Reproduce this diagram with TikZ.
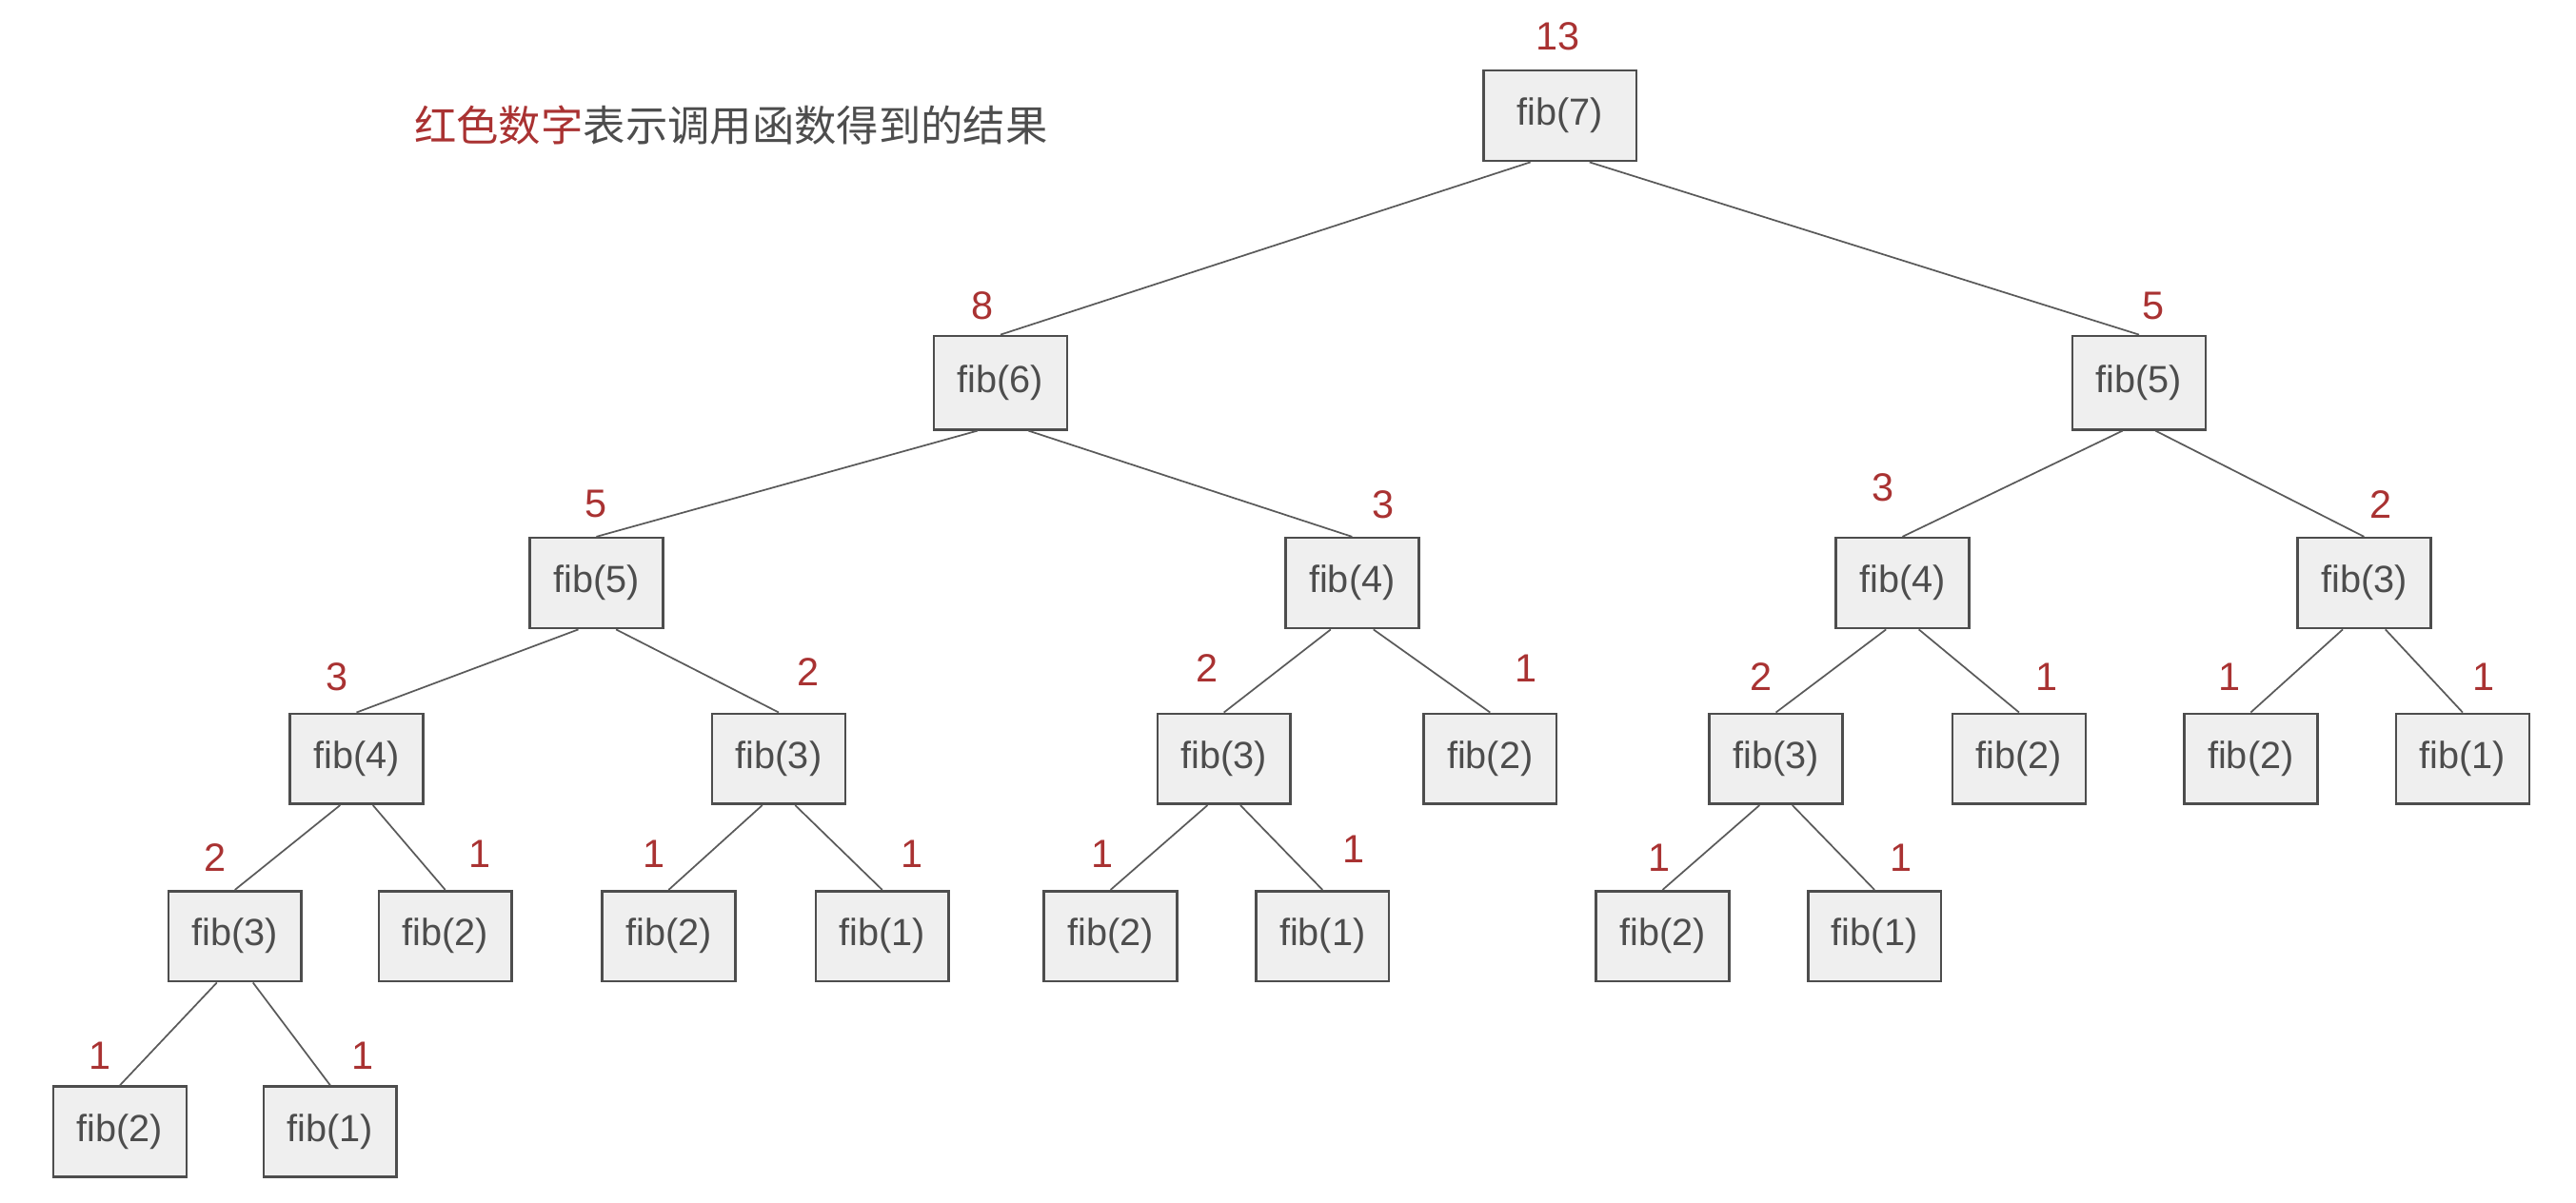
\documentclass[tikz,border=0pt]{standalone}
\usepackage{fontspec}
\setmainfont{Liberation Sans}
\newfontfamily\cjk{Noto Sans CJK SC}
\usetikzlibrary{positioning}

\definecolor{valred}{HTML}{A93232}
\definecolor{boxgray}{HTML}{EFEFEF}
\definecolor{inkgray}{HTML}{4D4D4D}
\definecolor{edgegray}{HTML}{5A5A5A}

\tikzset{
    fibbox/.style={draw=inkgray, line width=1.5pt, fill=boxgray, text=inkgray,
        minimum width=81pt, minimum height=55pt, inner sep=0pt,
        font=\fontsize{23}{26}\selectfont},
    val/.style={text=valred, inner sep=0pt, font=\fontsize{24}{28}\selectfont},
    call/.style={draw=edgegray, line width=1pt}
}

\begin{document}
\begin{tikzpicture}[x=1pt, y=-1pt]
    \useasboundingbox (0,0) rectangle (1568,732.4);

    % legend
    \node[anchor=west, inner sep=0pt, text=inkgray, font=\cjk\fontsize{25.7}{28}\selectfont]
        (note) at (252,76) {\textcolor{valred}{红色数字}表示调用函数得到的结果};

    % call boxes
    \node[fibbox, minimum width=93pt] (n7) at (949.5,70.5) {fib(7)};
    \node[fibbox, minimum height=57pt] (n6) at (609,233) {fib(6)};
    \node[fibbox, minimum height=57pt] (n5) at (1302,233) {fib(5)};
    \foreach \name/\x/\y/\k in {
        n6a/363/355/5, n6b/823/355/4, n5a/1158/355/4, n5b/1439/355/3,
        a/217/462/4, b/474/462/3, c/745/462/3, d/907/462/2,
        e/1081/462/3, f/1229/462/2, g/1370/462/2, h/1499/462/1,
        aa/143/570/3, ab/271/570/2, ba/407/570/2, bb/537/570/1,
        ca/676/570/2, cb/805/570/1, ea/1012/570/2, eb/1141/570/1,
        aaa/73/689/2, aab/201/689/1}
        \node[fibbox] (\name) at (\x,\y) {fib(\k)};

    % returned values
    \foreach \name/\x/\y/\v in {
        v7/948/22/13, v6/598/186/8, v5/1311/186/5,
        v6a/363/307/5, v6b/842/307/3, v5a/1146/297/3, v5b/1449/307/2,
        va/205/412/3, vb/492/409/2, vc/735/407/2, vd/929/407/1,
        ve/1072/412/2, vf/1246/412/1, vg/1357/412/1, vh/1512/412/1,
        vaa/131/522/2, vab/292/520/1, vba/398/520/1, vbb/555/520/1,
        vca/671/520/1, vcb/824/517/1, vea/1010/522/1, veb/1157/522/1,
        vaaa/61/643/1, vaab/221/643/1}
        \node[val] (\name) at (\x,\y) {\v};

    % calls
    \foreach \p/\c/\s in {
        n7/n6/-18, n7/n5/18, n6/n6a/-14, n6/n6b/17, n5/n5a/-10, n5/n5b/10,
        n6a/a/-11, n6a/b/12, n6b/c/-13, n6b/d/13, n5a/e/-10, n5a/f/10,
        n5b/g/-13, n5b/h/13, a/aa/-10, a/ab/10, b/ba/-10, b/bb/10,
        c/ca/-10, c/cb/10, e/ea/-10, e/eb/10, aa/aaa/-11, aa/aab/11}
        \draw[call] ([xshift=\s pt]\p.south) -- (\c.north);

\end{tikzpicture}
\end{document}
